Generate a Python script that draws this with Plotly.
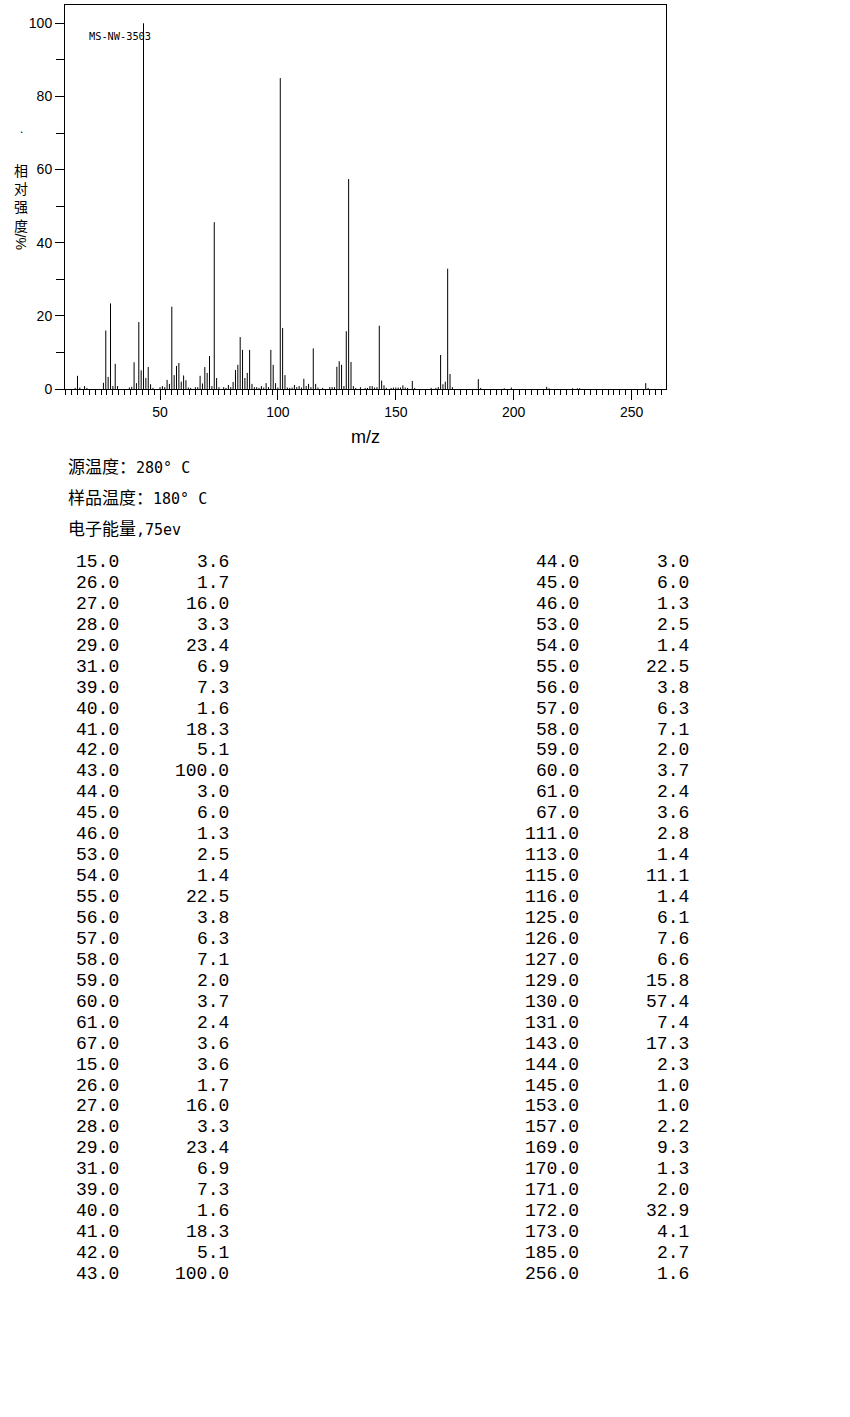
import plotly.graph_objects as go

# ---- spectrum ----
spec_mz = [14, 15, 16, 18, 19, 26, 27, 28, 29, 30, 31, 32, 37, 38, 39, 40, 41, 42, 43, 44,
           45, 46, 47, 50, 51, 52, 53, 54, 55, 56, 57, 58, 59, 60, 61, 62, 63, 65, 66, 67,
           68, 69, 70, 71, 72, 73, 74, 75, 77, 78, 79, 80, 81, 82, 83, 84, 85, 86, 87, 88,
           89, 90, 91, 92, 93, 94, 95, 96, 97, 98, 99, 100, 101, 102, 103, 104, 105, 106, 107, 108,
           109, 110, 111, 112, 113, 114, 115, 116, 117, 119, 122, 123, 124, 125, 126, 127, 128, 129, 130, 131,
           132, 133, 135, 137, 138, 139, 140, 141, 142, 143, 144, 145, 146, 148, 149, 150, 151, 152, 153, 154,
           155, 157, 158, 165, 167, 168, 169, 170, 171, 172, 173, 174, 185, 186, 196, 199, 214, 215, 225, 227,
           228, 256, 257]
spec_int = [0.3, 3.6, 0.4, 0.8, 0.3, 1.7, 16.0, 3.3, 23.4, 0.8, 6.9, 0.8, 0.4, 0.6, 7.3, 1.6, 18.3, 5.1, 100.0, 3.0,
            6.0, 1.3, 0.3, 0.5, 0.8, 0.5, 2.5, 1.4, 22.5, 3.8, 6.3, 7.1, 2.0, 3.7, 2.4, 0.4, 0.3, 0.5, 0.5, 3.6,
            1.5, 6.0, 4.4, 9.0, 0.8, 45.6, 3.0, 0.5, 0.5, 0.3, 1.1, 0.5, 1.9, 5.2, 6.6, 14.2, 10.7, 3.0, 4.4, 10.7,
            1.4, 0.5, 0.5, 0.3, 0.8, 0.4, 1.6, 0.5, 10.7, 6.6, 1.6, 0.4, 85.0, 16.7, 3.8, 0.4, 0.3, 0.4, 1.1, 0.5,
            0.8, 0.4, 2.8, 0.8, 1.4, 0.5, 11.1, 1.4, 0.4, 0.3, 0.5, 0.5, 0.5, 6.1, 7.6, 6.6, 0.8, 15.8, 57.4, 7.4,
            0.8, 0.3, 0.5, 0.3, 0.3, 0.8, 0.8, 0.4, 0.5, 17.3, 2.3, 1.0, 0.3, 0.3, 0.4, 0.4, 0.4, 0.4, 1.0, 0.4,
            0.3, 2.2, 0.3, 0.3, 0.3, 0.5, 9.3, 1.3, 2.0, 32.9, 4.1, 0.5, 2.7, 0.3, 0.2, 0.4, 0.6, 0.2, 0.2, 0.2,
            0.2, 1.6, 0.3]

# ---- table below the chart ----
left_mz = [15.0, 26.0, 27.0, 28.0, 29.0, 31.0, 39.0, 40.0, 41.0, 42.0, 43.0, 44.0, 45.0, 46.0, 53.0, 54.0,
           55.0, 56.0, 57.0, 58.0, 59.0, 60.0, 61.0, 67.0, 15.0, 26.0, 27.0, 28.0, 29.0, 31.0, 39.0, 40.0,
           41.0, 42.0, 43.0]
left_int = [3.6, 1.7, 16.0, 3.3, 23.4, 6.9, 7.3, 1.6, 18.3, 5.1, 100.0, 3.0, 6.0, 1.3, 2.5, 1.4,
            22.5, 3.8, 6.3, 7.1, 2.0, 3.7, 2.4, 3.6, 3.6, 1.7, 16.0, 3.3, 23.4, 6.9, 7.3, 1.6,
            18.3, 5.1, 100.0]
right_mz = [44.0, 45.0, 46.0, 53.0, 54.0, 55.0, 56.0, 57.0, 58.0, 59.0, 60.0, 61.0, 67.0, 111.0, 113.0, 115.0,
            116.0, 125.0, 126.0, 127.0, 129.0, 130.0, 131.0, 143.0, 144.0, 145.0, 153.0, 157.0, 169.0, 170.0, 171.0, 172.0,
            173.0, 185.0, 256.0]
right_int = [3.0, 6.0, 1.3, 2.5, 1.4, 22.5, 3.8, 6.3, 7.1, 2.0, 3.7, 2.4, 3.6, 2.8, 1.4, 11.1,
             1.4, 6.1, 7.6, 6.6, 15.8, 57.4, 7.4, 17.3, 2.3, 1.0, 1.0, 2.2, 9.3, 1.3, 2.0, 32.9,
             4.1, 2.7, 1.6]

# header lines: (Chinese label part, Latin value part)
header_lines = [("源温度：", "280° C"), ("样品温度：", "180° C"), ("电子能量", ",75ev")]
sample_id = "MS-NW-3503"
y_title = "相<br>对<br>强<br>度"
x_title = "m/z"

# ---- layout geometry (pixels) ----
W, H = 850, 1417
L, R, T, B = 65, 666, 5, 389
PW, PH = R - L, B - T


def px(x):
    return (x - L) / PW


def py(y):
    return (B - y) / PH


xs, ys = [], []
for m, v in zip(spec_mz, spec_int):
    xs += [m, m, None]
    ys += [0, v, None]

fig = go.Figure()
fig.add_trace(go.Scatter(x=xs, y=ys, mode="lines",
                         line=dict(color="black", width=1), hoverinfo="skip",
                         showlegend=False))

tickfont = dict(family="Liberation Sans, Arial, sans-serif", size=14, color="black")

fig.update_layout(
    width=W, height=H, autosize=False,
    margin=dict(l=L, r=W - R, t=T, b=H - B, pad=0),
    paper_bgcolor="white", plot_bgcolor="white",
    showlegend=False,
    xaxis=dict(range=[9.7, 264.6], showgrid=False, zeroline=False,
               showline=True, linecolor="black", linewidth=1, mirror=True,
               ticks="outside", ticklen=10, tickcolor="black", tickwidth=1,
               tick0=0, dtick=50, tickfont=tickfont,
               minor=dict(dtick=2.5, tick0=0, ticks="outside", ticklen=5,
                          tickcolor="black", tickwidth=1, showgrid=False)),
    yaxis=dict(range=[0, 105], showgrid=False, zeroline=False,
               showline=True, linecolor="black", linewidth=1, mirror=True,
               ticks="outside", ticklen=9, tickcolor="black", tickwidth=1,
               tick0=0, dtick=20, tickfont=tickfont,
               minor=dict(dtick=10, ticks="outside", ticklen=8,
                          tickcolor="black", tickwidth=1, showgrid=False)),
)

ann = []


def add_text(text, x, y, xanchor="left", yanchor="middle", size=16,
             family="Noto Sans CJK SC", angle=0):
    ann.append(dict(text=text, x=px(x), y=py(y), xref="paper", yref="paper",
                    xanchor=xanchor, yanchor=yanchor, showarrow=False,
                    textangle=angle, borderpad=0, align="center",
                    font=dict(family=family, size=size, color="black")))


# sample id inside plot
add_text(sample_id, 88, 36, size=10.3, family="DejaVu Sans Mono, monospace")
# axis titles
add_text(x_title, 365, 437, xanchor="center", size=18, family="Liberation Sans, Arial, sans-serif")
add_text(y_title, 21, 197, xanchor="center", size=14)
add_text("%/", 21, 242, xanchor="center", size=14, family="Liberation Sans, Arial", angle=-90)
add_text(".", 21, 129, xanchor="center", size=12, family="Liberation Sans, Arial")

# header lines
for i, (cn, lat) in enumerate(header_lines):
    text = cn + "<span style=\"font-family:'DejaVu Sans Mono', monospace; font-size:15px\">" + lat + "</span>"
    add_text(text, 67, 465 + 31 * i, size=17)

# table rows
mono = "Liberation Mono, Courier New, monospace"
row0, dy = 562, 20.94
for i, (m, v) in enumerate(zip(left_mz, left_int)):
    y = row0 + dy * i
    add_text(f"{m:.1f}", 120, y, xanchor="right", size=18, family=mono)
    add_text(f"{v:.1f}", 230, y, xanchor="right", size=18, family=mono)
for i, (m, v) in enumerate(zip(right_mz, right_int)):
    y = row0 + dy * i
    add_text(f"{m:.1f}", 580, y, xanchor="right", size=18, family=mono)
    add_text(f"{v:.1f}", 690, y, xanchor="right", size=18, family=mono)

fig.update_layout(annotations=ann)

fig.write_html("out.html", config={"displayModeBar": False},
               post_script="document.body.style.margin='0';")
